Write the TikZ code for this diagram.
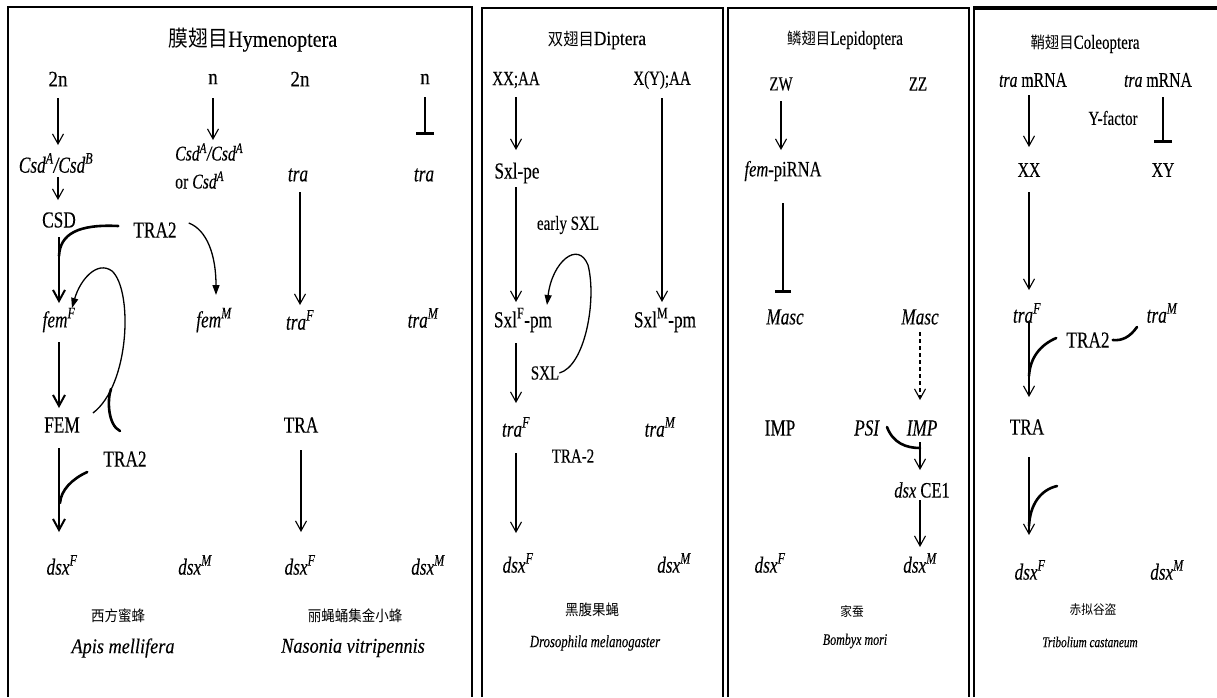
\documentclass[tikz,border=0pt]{standalone}
\usepackage{fontspec}
\setmainfont{Liberation Serif}[FakeStretch=0.75,FakeBold=0.2]
\newfontfamily\spfont{Liberation Serif}[FakeStretch=0.87,FakeBold=0.2]
\newfontfamily\cjk{Noto Sans CJK SC}[FakeStretch=0.9]
\usetikzlibrary{arrows.meta}
\newcommand{\fsz}[1]{\fontsize{#1}{#1}\selectfont}
\tikzset{
 L/.style={font=\fsz{#1}, inner sep=0pt},
 L/.default=23,
 N/.style={font=\spfont\fsz{22}, inner sep=0pt},
 cn/.style={font=\cjk\fsz{#1}, inner sep=0pt},
 arr/.style={line width=1.1pt, -{Straight Barb[length=10pt,width=11pt]}},
 tarr/.style={line width=2pt, -{Straight Barb[length=11pt,width=12pt]}},
 inh/.style={line width=1.2pt, -{Bar[width=#1,line width=2.6pt]}},
 inh/.default=18pt,
 mod/.style={line width=2.6pt, line cap=round},
 farr/.style={line width=1.3pt, -{Triangle[length=10pt,width=7pt]}},
}
\begin{document}
\begin{tikzpicture}[x=1pt,y=-1pt]
\useasboundingbox (0,0) rectangle (1217,697);
% panels
\draw[line width=2pt] (8,697) -- (8,7) -- (472,7) -- (472,697);
\draw[line width=1.6pt] (482,697) -- (482,8) -- (723,8) -- (723,697);
\draw[line width=1.6pt] (728,697) -- (728,8) -- (969,8) -- (969,697);
\draw[line width=1.6pt] (974,697) -- (974,8);
\draw[line width=3.5pt] (973.2,8) -- (1217,8);

% ---------- Hymenoptera ----------
\node[inner sep=0pt] (t1) at (253,40) {{\cjk\fsz{22}膜翅目}{\spfont\fsz{23}Hymenoptera}};
\node[N] (n2a) at (58,79) {2n};
\node[N] (na) at (213,79) {n};
\node[N] (n2b) at (300,79) {2n};
\node[N] (nb) at (425,79) {n};
\node[L] (csdAB) at (56,163) {\textit{Csd\textsuperscript{A}/Csd\textsuperscript{B}}};
\node[L=21,anchor=west] (csdAA) at (175,152) {\textit{Csd\textsuperscript{A}/Csd\textsuperscript{A}}};
\node[L=21,anchor=west] (orcsd) at (175,180) {or \textit{Csd\textsuperscript{A}}};
\node[L] (tra1) at (298,175) {\textit{tra}};
\node[L] (tra2) at (424,175) {\textit{tra}};
\node[L] (CSD) at (59,220) {CSD};
\node[L] (TRA2a) at (155,230) {TRA2};
\node[L] (femF) at (59,320) {\textit{fem\textsuperscript{F}}};
\node[L] (femM) at (214,320) {\textit{fem\textsuperscript{M}}};
\node[L] (traF) at (300,320) {\textit{tra\textsuperscript{F}}};
\node[L] (traM) at (423,318) {\textit{tra\textsuperscript{M}}};
\node[L] (FEM) at (62,425) {FEM};
\node[L] (TRA) at (301,425) {TRA};
\node[L] (TRA2b) at (125,459) {TRA2};
\node[L] (dsxF1) at (62,565) {\textit{dsx\textsuperscript{F}}};
\node[L] (dsxM1) at (195,565) {\textit{dsx\textsuperscript{M}}};
\node[L] (dsxF2) at (300,565) {\textit{dsx\textsuperscript{F}}};
\node[L] (dsxM2) at (428,565) {\textit{dsx\textsuperscript{M}}};
\node[cn=15] (cn1) at (118,616) {西方蜜蜂};
\node[font=\spfont\fsz{21}\itshape, inner sep=0pt] (la1) at (123,648) {Apis mellifera};
\node[cn=15] (cn2) at (355,616) {丽蝇蛹集金小蜂};
\node[font=\spfont\fsz{21}\itshape, inner sep=0pt] (la2) at (353,648) {Nasonia vitripennis};

\draw[arr, shorten <=19pt, shorten >=18pt] (n2a.center) -- (n2a.center |- csdAB.center);
\draw[arr, shorten <=14pt, shorten >=20pt] (n2a.center |- csdAB.center) -- (n2a.center |- CSD.center);
\draw[tarr, shorten <=17pt, shorten >=17pt] (CSD.center) -- (CSD.center |- femF.center);
\draw[tarr, shorten <=22pt, shorten >=17pt] (femF.center) -- (femF.center |- FEM.center);
\draw[tarr, shorten <=23pt, shorten >=33pt] (femF.center |- FEM.center) -- (femF.center |- dsxF1.center);
\draw[arr, shorten <=19pt, shorten >=12pt] (na.center) -- (na.center |- csdAA.center);
\draw[inh, shorten <=18pt, shorten >=40pt] (nb.center) -- (nb.center |- tra2.center);
\draw[arr, shorten <=17pt, shorten >=15pt] (traF.center |- tra1.center) -- (traF.center);
\draw[arr, shorten <=25pt, shorten >=33pt] (TRA.center) -- (TRA.center |- dsxF2.center);

\coordinate (j1) at (59,256);
\draw[mod] ([shift={(-15,-4)}]TRA2a.west) .. controls (78,224) and (60,234) .. (j1);
\draw[farr] ([shift={(12,-7)}]TRA2a.east) .. controls (207,230) and (216,255) .. ([shift={(2,-25)}]femM.center);
\draw[farr] ([shift={(13,-12)}]FEM.east) .. controls (130,385) and (133,290) .. (112,271) .. controls (97,260) and (80,280) .. ([shift={(13,-12)}]femF.center);
\coordinate (h0) at (120,431);
\draw[mod] (h0) .. controls (108,425) and (107,400) .. (111,389);
\coordinate (j2) at (60,503);
\draw[mod] ([shift={(-16,13)}]TRA2b.west) .. controls (72,479) and (61,490) .. (j2);

% ---------- Diptera ----------
\node[inner sep=0pt] (t2) at (597,40) {{\cjk\fsz{17}双翅目}{\spfont\fsz{20}Diptera}};
\node[L=20] (xxaa) at (516,80) {XX;AA};
\node[L=20] (xyaa) at (662,80) {X(Y);AA};
\node[L] (sxlpe) at (517,173) {Sxl-pe};
\node[L=20] (early) at (568,225) {early SXL};
\node[L] (sxlF) at (523,320) {Sxl\textsuperscript{F}-pm};
\node[L] (sxlM) at (665,320) {Sxl\textsuperscript{M}-pm};
\node[L=20] (SXL) at (545,373) {SXL};
\node[L] (traFd) at (516,427) {\textit{tra\textsuperscript{F}}};
\node[L] (traMd) at (660,427) {\textit{tra\textsuperscript{M}}};
\node[L=20] (tra2d) at (573,456) {TRA-2};
\node[L] (dsxFd) at (518,563) {\textit{dsx\textsuperscript{F}}};
\node[L] (dsxMd) at (674,563) {\textit{dsx\textsuperscript{M}}};
\node[cn=15] (cn3) at (592,610) {黑腹果蝇};
\node[font=\fsz{17}\itshape, inner sep=0pt] (la3) at (595,643) {Drosophila melanogaster};

\draw[arr, shorten <=17pt, shorten >=23pt] (xxaa.center) -- (xxaa.center |- sxlpe.center);
\draw[arr, shorten <=14pt, shorten >=18pt] (xxaa.center |- sxlpe.center) -- (xxaa.center |- sxlF.center);
\draw[arr, shorten <=18pt, shorten >=18pt] (xyaa.center) -- (xyaa.center |- sxlM.center);
\draw[arr, shorten <=23pt, shorten >=24pt] (xxaa.center |- sxlF.center) -- (xxaa.center |- traFd.center);
\draw[arr, shorten <=26pt, shorten >=30pt] (xxaa.center |- traFd.center) -- (xxaa.center |- dsxFd.center);
\draw[farr] (SXL.east) .. controls (585,366) and (597,300) .. (588,265) .. controls (578,240) and (552,262) .. ([shift={(24,-15)}]sxlF.center);

% ---------- Lepidoptera ----------
\node[inner sep=0pt] (t3) at (845,40) {{\cjk\fsz{16}鳞翅目}{\fsz{20}Lepidoptera}};
\node[L=20] (ZW) at (781,84) {ZW};
\node[L=20] (ZZ) at (918,84) {ZZ};
\node[L=22] (fempi) at (783,171) {\textit{fem}-piRNA};
\node[L] (masc1) at (785,317) {\textit{Masc}};
\node[L] (masc2) at (920,317) {\textit{Masc}};
\node[L] (IMP1) at (780,428) {IMP};
\node[L] (PSI) at (867,428) {\textit{PSI}};
\node[L] (IMP2) at (922,428) {\textit{IMP}};
\node[L=22] (dsxCE) at (922,490) {\textit{dsx} CE1};
\node[L] (dsxF3) at (770,563) {\textit{dsx\textsuperscript{F}}};
\node[L] (dsxM3) at (920,563) {\textit{dsx\textsuperscript{M}}};
\node[cn=13] (cn4) at (852,612) {家蚕};
\node[font=\fsz{16}\itshape, inner sep=0pt] (la4) at (855,641) {Bombyx mori};

\draw[arr, shorten <=17pt, shorten >=21pt] (ZW.center) -- (ZW.center |- fempi.center);
\draw[inh=16pt, shorten <=32pt, shorten >=24pt] (fempi.center) -- (fempi.center |- masc1.center);
\draw[arr, dash pattern=on 4pt off 3pt, shorten <=15pt, shorten >=28pt] (masc2.center) -- (masc2.center |- IMP2.center);
\draw[arr, shorten <=14pt, shorten >=20pt] (masc2.center |- IMP2.center) -- (masc2.center |- dsxCE.center);
\draw[arr, shorten <=10pt, shorten >=16pt] (masc2.center |- dsxCE.center) -- (masc2.center |- dsxM3.center);
\coordinate (j3) at (920,448);
\draw[mod] ([shift={(7,-1)}]PSI.east) .. controls (893,443) and (906,448) .. (j3);

% ---------- Coleoptera ----------
\node[inner sep=0pt] (t4) at (1085,44) {{\cjk\fsz{16}鞘翅目}{\fsz{20}Coleoptera}};
\node[L=21] (tram1) at (1033,80) {\textit{tra} mRNA};
\node[L=21] (tram2) at (1158,80) {\textit{tra} mRNA};
\node[L=20] (yfac) at (1113,118) {Y-factor};
\node[L=21] (XX) at (1029,170) {XX};
\node[L=21] (XY) at (1163,170) {XY};
\node[L] (traF4) at (1027,313) {\textit{tra\textsuperscript{F}}};
\node[L] (traM4) at (1162,313) {\textit{tra\textsuperscript{M}}};
\node[L] (TRA2c) at (1088,340) {TRA2};
\node[L] (TRA4) at (1027,427) {TRA};
\node[L] (dsxF4) at (1030,570) {\textit{dsx\textsuperscript{F}}};
\node[L] (dsxM4) at (1167,570) {\textit{dsx\textsuperscript{M}}};
\node[cn=13] (cn5) at (1093,610) {赤拟谷盗};
\node[font=\fsz{15}\itshape, inner sep=0pt] (la5) at (1090,642) {Tribolium castaneum};

\draw[arr, shorten <=15pt, shorten >=23pt] (XX.center |- tram1.center) -- (XX.center);
\draw[inh, shorten <=17pt, shorten >=27pt] (XY.center |- tram2.center) -- (XY.center);
\draw[arr, shorten <=22pt, shorten >=23pt] (XX.center) -- (XX.center |- traF4.center);
\draw[arr, shorten <=9pt, shorten >=30pt] (XX.center |- traF4.center) -- (XX.center |- TRA4.center);
\draw[arr, shorten <=30pt, shorten >=35pt] (XX.center |- TRA4.center) -- (XX.center |- dsxF4.center);
\draw[mod] ([shift={(-25,14)}]traM4.center) .. controls (1130,337) and (1122,341) .. ([shift={(3,0)}]TRA2c.east);
\coordinate (j4) at (1029,376);
\draw[mod] ([shift={(-10,-2)}]TRA2c.west) .. controls (1040,345) and (1030,358) .. (j4);
\coordinate (c5) at (1057,486);
\coordinate (j5) at (1029,526);
\draw[mod] (c5) .. controls (1040,490) and (1030,505) .. (j5);
\end{tikzpicture}
\end{document}
